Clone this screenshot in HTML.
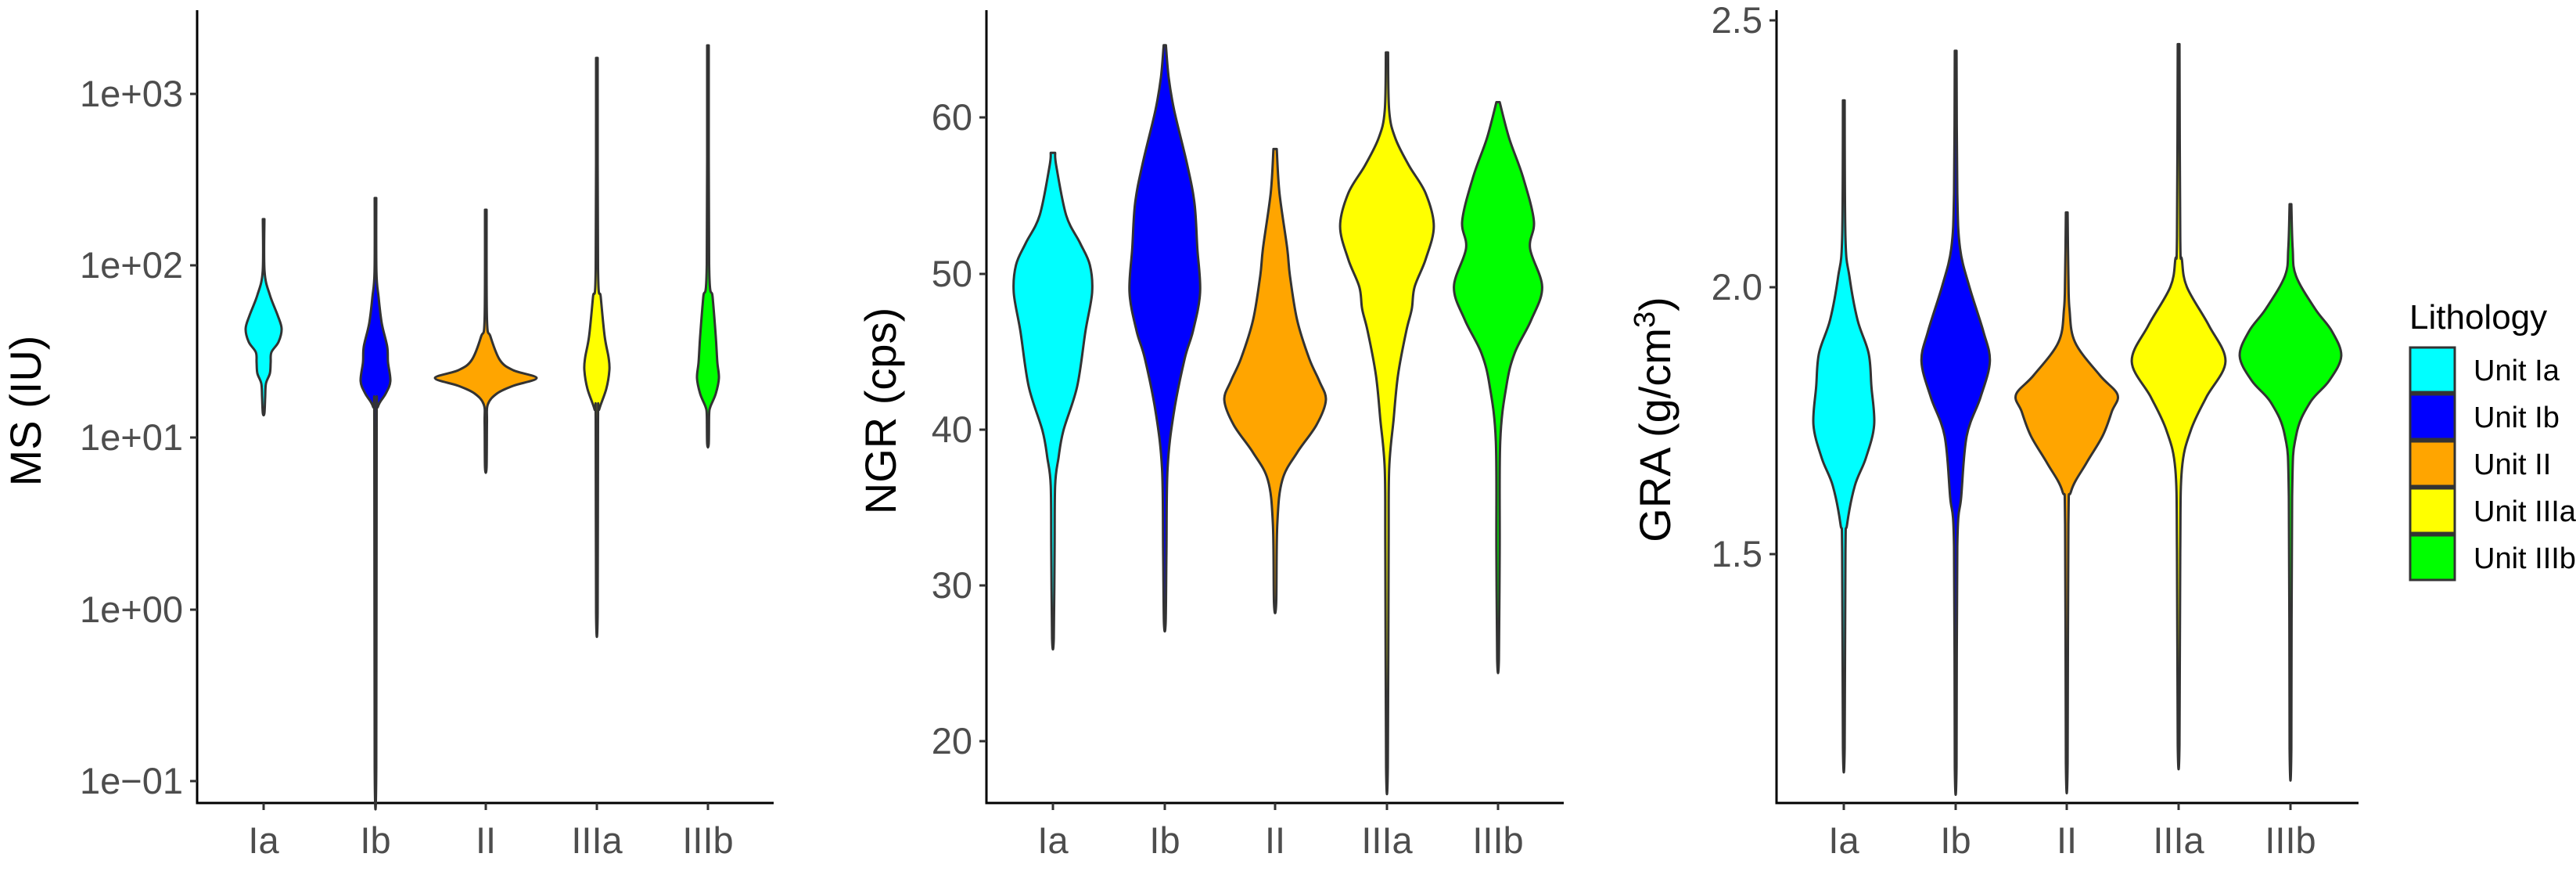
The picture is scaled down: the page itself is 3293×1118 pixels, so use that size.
<!DOCTYPE html>
<html><head><meta charset="utf-8"><style>
html,body{margin:0;padding:0;background:#fff;}
svg{display:block;font-family:"Liberation Sans",Arial,sans-serif;}
.tk{fill:#4d4d4d;font-size:47px;}
.ti{fill:#000;font-size:56px;}
</style></head><body>
<svg id="s" width="3293" height="1118" viewBox="0 0 3293 1118" xmlns="http://www.w3.org/2000/svg">
<g stroke="#000" stroke-width="3" fill="none">
<path d="M252,13V1026H989"/>
<path d="M1261,13V1026H1999"/>
<path d="M2271,13V1026H3015"/>
</g>
<g stroke="#333" stroke-width="3">
<path d="M243,120H252M243,339H252M243,559H252M243,779H252M243,998H252"/>
<path d="M337,1026v9M480,1026v9M621,1026v9M763,1026v9M905,1026v9"/>
<path d="M1252,150H1261M1252,350H1261M1252,549H1261M1252,748H1261M1252,947H1261"/>
<path d="M1346,1026v9M1489,1026v9M1630,1026v9M1773,1026v9M1915,1026v9"/>
<path d="M2262,26H2271M2262,367H2271M2262,708H2271"/>
<path d="M2357,1026v9M2500,1026v9M2642,1026v9M2785,1026v9M2928,1026v9"/>
</g>
<g class="tk" text-anchor="end">
<text x="234" y="136">1e+03</text><text x="234" y="355">1e+02</text><text x="234" y="575">1e+01</text><text x="234" y="795">1e+00</text><text x="234" y="1014">1e−01</text>
<text x="1243" y="166">60</text><text x="1243" y="366">50</text><text x="1243" y="565">40</text><text x="1243" y="764">30</text><text x="1243" y="963">20</text>
<text x="2253" y="42">2.5</text><text x="2253" y="383">2.0</text><text x="2253" y="724">1.5</text>
</g>
<g class="tk" text-anchor="middle">
<text x="337" y="1090">Ia</text><text x="480" y="1090">Ib</text><text x="621" y="1090">II</text><text x="763" y="1090">IIIa</text><text x="905" y="1090">IIIb</text>
<text x="1346" y="1090">Ia</text><text x="1489" y="1090">Ib</text><text x="1630" y="1090">II</text><text x="1773" y="1090">IIIa</text><text x="1915" y="1090">IIIb</text>
<text x="2357" y="1090">Ia</text><text x="2500" y="1090">Ib</text><text x="2642" y="1090">II</text><text x="2785" y="1090">IIIa</text><text x="2928" y="1090">IIIb</text>
</g>
<g class="ti" text-anchor="middle">
<text transform="translate(52,525) rotate(-90)">MS (IU)</text>
<text transform="translate(1145,525) rotate(-90)">NGR (cps)</text>
<text transform="translate(2135,536) rotate(-90)">GRA (g/cm<tspan font-size="38" dy="-20">3</tspan><tspan dy="20">)</tspan></text>
</g>
<text x="3080" y="420" style="font-size:44px" fill="#000">Lithology</text>
<g stroke="#333" stroke-width="3">
<rect x="3081" y="444" width="57" height="57" fill="#00FFFF"/>
<rect x="3081" y="504" width="57" height="57" fill="#0000FF"/>
<rect x="3081" y="564" width="57" height="57" fill="#FFA500"/>
<rect x="3081" y="624" width="57" height="57" fill="#FFFF00"/>
<rect x="3081" y="684" width="57" height="57" fill="#00FF00"/>
</g>
<g style="font-size:38px" fill="#000">
<text x="3162" y="486">Unit Ia</text><text x="3162" y="546">Unit Ib</text><text x="3162" y="606">Unit II</text><text x="3162" y="666">Unit IIIa</text><text x="3162" y="726">Unit IIIb</text>
</g>
<g id="v" stroke="#333" stroke-width="3" stroke-linejoin="round"></g>
</svg>
<script>
var S=1.418;
function z(a){return a.map(function(p){return [p[0]/S,p[1]/S];});}
var V=[
[337,'#00FFFF',[[280,1],[347,1.2],[377,8],[403,18],[420,23],[437,19],[450,10],[463,9],[477,8],[490,3],[507,2],[528,1]]],
[480,'#0000FF',[[253,1],[347,1.2],[380,4],[413,8],[443,15],[463,16],[487,19],[503,13],[520,3],[547,1.5],[980,1]]],
[621,'#FFA500',[[268,1],[407,1.5],[430,6],[460,18],[473,35],[483,65],[493,35],[503,14],[517,2.5],[540,1.5],[597,1]]],
[763,'#FFFF00',[[74,1],[343,1.5],[380,5],[430,10],[457,15],[473,16],[497,12],[523,3],[537,1.5],[783,1]]],
[905,'#00FF00',[[58,1],[337,1.5],[380,6],[430,10],[463,12],[483,14],[503,10],[520,3],[530,1.5],[567,1]]],
[1346,'#00FFFF',z([[277,4],[300,6],[390,24],[440,49],[480,67],[530,71],[600,59],[700,44],[780,19],[830,10],[880,4],[1000,3],[1157,1.5]])],
[1489,'#0000FF',z([[82,2],[140,7],[200,17],[300,41],[370,54],[450,59],[530,64],[600,51],[650,36],[750,16],[850,5],[1000,3],[1128,1.5]])],
[1630,'#FFA500',z([[270,3],[350,8],[450,22],[500,27],[580,40],[650,62],[690,80],[725,92],[770,75],[820,40],[870,13],[950,4],[1093,2]])],
[1773,'#FFFF00',z([[95,2],[200,4],[250,15],[300,40],[350,70],[410,85],[470,70],[520,50],[560,45],[600,35],[680,20],[760,12],[850,4],[1000,3],[1390,1.5]])],
[1915,'#00FF00',z([[185,3],[250,20],[320,45],[400,65],[450,58],[520,80],[580,60],[640,30],[700,15],[800,4],[1000,3],[1195,1.5]])],
[2357,'#00FFFF',z([[182,1.5],[430,3],[500,10],[580,25],[640,45],[700,50],[770,55],[830,40],[880,20],[950,6],[1000,3],[1355,1.5]])],
[2500,'#0000FF',z([[92,1.5],[350,3],[450,8],[520,25],[600,50],[655,62],[720,45],[790,20],[900,10],[990,3],[1390,1.5]])],
[2642,'#FFA500',z([[385,1.5],[500,3],[560,5],[620,15],[680,60],[715,92],[745,82],[790,65],[840,35],[890,8],[950,3],[1383,1.5]])],
[2785,'#FFFF00',z([[80,1.5],[430,3],[470,6],[520,15],[590,55],[655,85],[720,50],[780,22],[850,6],[1000,3],[1350,1.5]])],
[2928,'#00FF00',z([[370,1.5],[450,4],[500,10],[560,45],[600,75],[645,92],[690,70],[730,35],[790,10],[900,3],[1357,1.5]])]
];
function smooth(pts){
  var d='M'+pts[0][0].toFixed(1)+','+pts[0][1].toFixed(1);
  for(var i=0;i<pts.length-1;i++){
    var p0=pts[i-1]||pts[i],p1=pts[i],p2=pts[i+1],p3=pts[i+2]||p2;
    var c1=[p1[0]+(p2[0]-p0[0])/6,p1[1]+(p2[1]-p0[1])/6];
    var c2=[p2[0]-(p3[0]-p1[0])/6,p2[1]-(p3[1]-p1[1])/6];
    d+='C'+c1[0].toFixed(1)+','+c1[1].toFixed(1)+' '+c2[0].toFixed(1)+','+c2[1].toFixed(1)+' '+p2[0].toFixed(1)+','+p2[1].toFixed(1);
  }
  return d;
}
var g=document.getElementById('v'),h='';
V.forEach(function(v){
  var cx=v[0],p=v[2];
  var R=p.map(function(q){return [cx+q[1],q[0]];});
  var L=p.slice().reverse().map(function(q){return [cx-q[1],q[0]];});
  h+='<path fill="'+v[1]+'" d="'+smooth(R.concat(L))+'Z"/>';
});
g.innerHTML=h;
</script>
</body></html>
